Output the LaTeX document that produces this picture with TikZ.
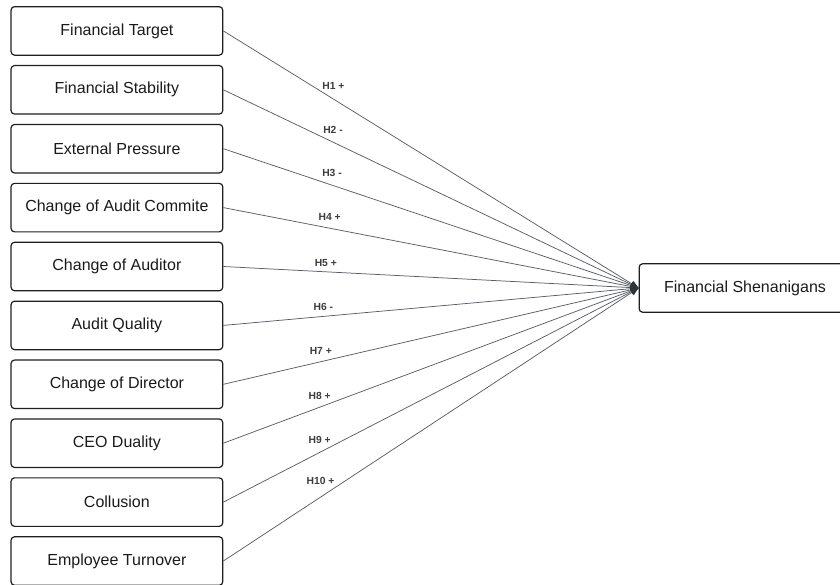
\documentclass[tikz,border=0pt]{standalone}
\usepackage{fontspec}
\setmainfont{Liberation Sans}
\usetikzlibrary{arrows.meta}
\definecolor{boxline}{HTML}{1E1E1E}
\definecolor{txt}{HTML}{1A1A1A}
\definecolor{conn}{HTML}{5A5E66}
\definecolor{tip}{HTML}{2F343B}
\tikzset{
  varbox/.style={draw=boxline, line width=1.2pt, rounded corners=3.5pt, minimum width=211.7pt, minimum height=48.5pt, inner sep=0pt, text=txt, font=\fontsize{16}{18}\selectfont},
  conline/.style={draw=conn, line width=0.75pt, -{Triangle[length=8pt,width=6.5pt,fill=tip,color=tip]}},
  hlabel/.style={font=\bfseries\fontsize{10.3}{12}\selectfont, text=txt!85!white, inner sep=0pt}
}
\begin{document}
\begin{tikzpicture}[x=1pt,y=-1pt]
\useasboundingbox (0,0) rectangle (840,584);
\clip (0,0) rectangle (840,584);
\node[varbox] (v1) at (116.9,30.9) {Financial Target};
\node[varbox] (v2) at (116.9,89.8) {Financial Stability};
\node[varbox] (v3) at (116.9,148.7) {External Pressure};
\node[varbox] (v4) at (116.9,207.6) {Change of Audit Commite};
\node[varbox] (v5) at (116.9,266.5) {Change of Auditor};
\node[varbox] (v6) at (116.9,325.4) {Audit Quality};
\node[varbox] (v7) at (116.9,384.3) {Change of Director};
\node[varbox] (v8) at (116.9,443.2) {CEO Duality};
\node[varbox] (v9) at (116.9,502.1) {Collusion};
\node[varbox] (v10) at (116.9,561.0) {Employee Turnover};
\node[varbox] (fs) at (745,288) {Financial Shenanigans};
\foreach \i in {1,...,10}{
  \draw[conline] (v\i.east) -- (fs.west);
}
\node[hlabel] (l1) at (333.5,85.5) {H1 +};
\node[hlabel] (l2) at (333,130) {H2 -};
\node[hlabel] (l3) at (332,173.3) {H3 -};
\node[hlabel] (l4) at (329.7,216.7) {H4 +};
\node[hlabel] (l5) at (325.8,262.7) {H5 +};
\node[hlabel] (l6) at (323.3,306.7) {H6 -};
\node[hlabel] (l7) at (320.8,351) {H7 +};
\node[hlabel] (l8) at (319.7,395.7) {H8 +};
\node[hlabel] (l9) at (319.7,440) {H9 +};
\node[hlabel] (l10) at (320.5,481) {H10 +};
\end{tikzpicture}
\end{document}
